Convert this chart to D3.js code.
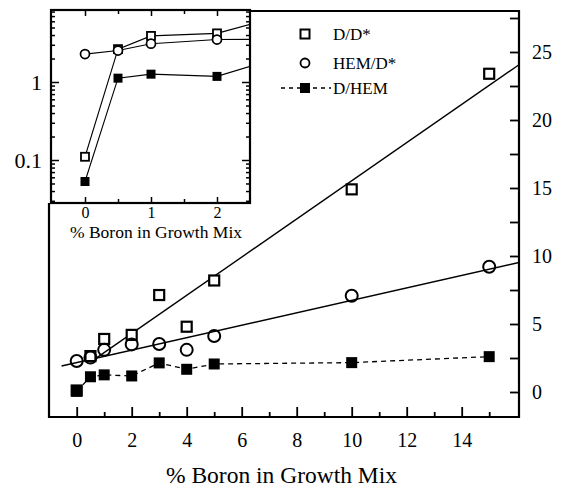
<!DOCTYPE html>
<html>
<head>
<meta charset="utf-8">
<script src="https://cdn.jsdelivr.net/npm/d3@7/dist/d3.min.js"></script>
<style>
  html, body { margin: 0; padding: 0; background: #fff; }
  svg { display: block; }
  text { font-family: "Liberation Serif", "Times New Roman", "DejaVu Serif", serif; fill: #000; }
</style>
</head>
<body>
<svg id="chart" width="561" height="489"></svg>
<script>
// ---------- data ----------
const boron   = [0, 0.5, 1, 2, 3, 4, 5, 10, 15];          // % Boron in growth mix
const dd      = [0.11, 2.64, 3.9, 4.2, 7.13, 4.8, 8.2, 14.9, 23.4];   // D/D*
const hemD    = [2.28, 2.53, 3.1, 3.5, 3.53, 3.1, 4.12, 7.08, 9.21];  // HEM/D*
const dHem    = [0.053, 1.12, 1.26, 1.18, 2.14, 1.67, 2.06, 2.16, 2.6]; // D/HEM
// linear fits [slope, intercept, xStart]
const ddFit   = [1.403, 1.5, 0.5];
const hemFit  = [0.458, 2.16, -0.55];
const mainXTicks = [0, 2, 4, 6, 8, 10, 12, 14];
const mainXMinor = [1, 3, 5, 7, 9, 11, 13, 15];
const mainYTicks = [0, 5, 10, 15, 20, 25];
const mainYMinor = [2.5, 7.5, 12.5, 17.5, 22.5, 27.5];
const insetXTicks = [0, 1, 2];
const insetXMinor = [0.5, 1.5];
const insetYTicks = [0.1, 1];
const legendLabels = ["D/D*", "HEM/D*", "D/HEM"];
const axisTitle = "% Boron in Growth Mix";

// ---------- layout ----------
const FONT = "Liberation Serif, Times New Roman, DejaVu Serif, serif";
const svg = d3.select("#chart").attr("font-family", FONT);
const M = {left: 49, right: 519, top: 11, bottom: 417};
const I = {left: 51, right: 250, top: 10, bottom: 203};

const x = d3.scaleLinear().domain([(M.left - 76.7) / 27.5, (M.right - 76.7) / 27.5]).range([M.left, M.right]);
const y = d3.scaleLinear().domain([(392 - M.bottom) / 13.6, (392 - M.top) / 13.6]).range([M.bottom, M.top]);

const ix = d3.scaleLinear().domain([(I.left - 85) / 66, (I.right - 85) / 66]).range([I.left, I.right]);
const iy = d3.scaleLog().domain([Math.pow(10, -(I.bottom - 82) / 78), Math.pow(10, (82 - I.top) / 78)]).range([I.bottom, I.top]);

const strip = g => { g.select(".domain").remove(); g.attr("font-family", FONT); };

// ---------- main axes ----------
svg.append("g").attr("transform", `translate(0,${M.bottom})`)
  .call(d3.axisTop(x).tickValues(mainXTicks).tickSize(10).tickFormat(""))
  .call(strip).selectAll("line").attr("stroke-width", 1.8);
svg.append("g").attr("transform", `translate(0,${M.bottom})`)
  .call(d3.axisTop(x).tickValues(mainXMinor).tickSize(5).tickFormat(""))
  .call(strip).selectAll("line").attr("stroke-width", 1.8);
svg.append("g").attr("transform", `translate(0,${M.bottom})`)
  .call(d3.axisBottom(x).tickValues(mainXTicks).tickSize(0).tickPadding(16).tickFormat(d3.format("d")))
  .call(strip).selectAll("text").style("font-size", "20px");

svg.append("g").attr("transform", `translate(${M.right},0)`)
  .call(d3.axisLeft(y).tickValues(mainYTicks.concat(mainYMinor)).tickSize(9).tickFormat(""))
  .call(strip).selectAll("line").attr("stroke-width", 1.8);
svg.append("g").attr("transform", `translate(${M.right},0)`)
  .call(d3.axisRight(y).tickValues(mainYTicks).tickSize(0).tickPadding(13).tickFormat(d3.format("d")))
  .call(strip).selectAll("text").style("font-size", "20px");

svg.append("path")
  .attr("d", `M${M.left},${I.bottom}V${M.bottom}H${M.right}V${M.top}H${I.right}`)
  .attr("fill", "none").attr("stroke", "#000").attr("stroke-width", 2.2);

svg.append("text").attr("x", 281.5).attr("y", 483).attr("text-anchor", "middle")
  .style("font-size", "23.5px").text(axisTitle);

// ---------- main marks ----------
svg.append("clipPath").attr("id", "mclip").append("rect")
  .attr("x", M.left).attr("y", M.top).attr("width", M.right - M.left).attr("height", M.bottom - M.top);
const gm = svg.append("g").attr("clip-path", "url(#mclip)");

const fitLine = f => {
  const xs = [f[2], x.domain()[1]];
  return d3.line().x(d => x(d)).y(d => y(f[0] * d + f[1]))(xs);
};
gm.append("path").attr("d", fitLine(ddFit)).attr("fill", "none").attr("stroke", "#000").attr("stroke-width", 1.4);
gm.append("path").attr("d", fitLine(hemFit)).attr("fill", "none").attr("stroke", "#000").attr("stroke-width", 1.4);

const idx = d3.range(boron.length);
gm.append("path")
  .attr("d", d3.line().x(i => x(boron[i])).y(i => y(dHem[i]))(idx))
  .attr("fill", "none").attr("stroke", "#000").attr("stroke-width", 1.3).attr("stroke-dasharray", "5,4");

const sqM = 10, sqF = 11, rM = 6;
gm.selectAll(".dd").data(idx).join("rect")
  .attr("x", i => x(boron[i]) - sqM / 2).attr("y", i => y(dd[i]) - sqM / 2)
  .attr("width", sqM).attr("height", sqM).attr("fill", "#fff").attr("stroke", "#000").attr("stroke-width", 2.2);
gm.selectAll(".hem").data(idx).join("circle")
  .attr("cx", i => x(boron[i])).attr("cy", i => y(hemD[i])).attr("r", rM)
  .attr("fill", "#fff").attr("fill-opacity", 0).attr("stroke", "#000").attr("stroke-width", 2);
gm.selectAll(".dh").data(idx).join("rect")
  .attr("x", i => x(boron[i]) - sqF / 2).attr("y", i => y(dHem[i]) - sqF / 2)
  .attr("width", sqF).attr("height", sqF).attr("fill", "#000");

// ---------- legend ----------
const lg = svg.append("g");
const lx = 305, ly = [34, 63, 88];
lg.append("rect").attr("x", lx - 4.5).attr("y", ly[0] - 4.5).attr("width", 9).attr("height", 9)
  .attr("fill", "#fff").attr("stroke", "#000").attr("stroke-width", 2);
lg.append("circle").attr("cx", lx).attr("cy", ly[1]).attr("r", 4.5)
  .attr("fill", "#fff").attr("stroke", "#000").attr("stroke-width", 1.8);
lg.append("line").attr("x1", 281).attr("x2", 331).attr("y1", ly[2]).attr("y2", ly[2])
  .attr("stroke", "#000").attr("stroke-width", 1.3).attr("stroke-dasharray", "4,4");
lg.append("rect").attr("x", lx - 5).attr("y", ly[2] - 5).attr("width", 10).attr("height", 10).attr("fill", "#000");
legendLabels.forEach((t, k) => {
  lg.append("text").attr("x", 333).attr("y", ly[k] + 6).style("font-size", "17px").text(t);
});

// ---------- inset ----------
svg.append("rect").attr("x", I.left).attr("y", I.top).attr("width", I.right - I.left).attr("height", I.bottom - I.top)
  .attr("fill", "#fff");

const [lo, hi] = iy.domain();
const logMinor = [];
for (let e = -3; e <= 1; e++) for (let m = 2; m <= 9; m++) {
  const v = m * Math.pow(10, e);
  if (v > lo && v < hi) logMinor.push(v);
}
const insetTicks = (axisFn, scale, vals, size, tr) => {
  svg.append("g").attr("transform", tr)
    .call(axisFn(scale).tickValues(vals).tickSize(size).tickFormat(""))
    .call(strip).selectAll("line").attr("stroke-width", 1.5);
};
insetTicks(d3.axisRight, iy, insetYTicks, 8, `translate(${I.left},0)`);
insetTicks(d3.axisRight, iy, logMinor, 4, `translate(${I.left},0)`);
insetTicks(d3.axisLeft, iy, insetYTicks, 8, `translate(${I.right},0)`);
insetTicks(d3.axisLeft, iy, logMinor, 4, `translate(${I.right},0)`);
insetTicks(d3.axisTop, ix, insetXTicks, 6, `translate(0,${I.bottom})`);
insetTicks(d3.axisTop, ix, insetXMinor, 4, `translate(0,${I.bottom})`);
insetTicks(d3.axisBottom, ix, insetXTicks, 6, `translate(0,${I.top})`);
insetTicks(d3.axisBottom, ix, insetXMinor, 4, `translate(0,${I.top})`);

svg.append("g").attr("transform", `translate(${I.left},0)`)
  .call(d3.axisLeft(iy).tickValues(insetYTicks).tickSize(0).tickPadding(9).tickFormat(d => d >= 1 ? "1" : "0.1"))
  .call(strip).selectAll("text").style("font-size", "22px");
svg.append("g").attr("transform", `translate(0,${I.bottom})`)
  .call(d3.axisBottom(ix).tickValues(insetXTicks).tickSize(0).tickPadding(4).tickFormat(d3.format("d")))
  .call(strip).selectAll("text").style("font-size", "16px");
svg.append("text").attr("x", 156).attr("y", 238).attr("text-anchor", "middle")
  .style("font-size", "17.5px").text(axisTitle);

svg.append("clipPath").attr("id", "iclip").append("rect")
  .attr("x", I.left).attr("y", I.top).attr("width", I.right - I.left).attr("height", I.bottom - I.top);
const gi = svg.append("g").attr("clip-path", "url(#iclip)");
const iIdx = idx.filter(i => boron[i] <= 3);
[dd, hemD, dHem].forEach(s => {
  gi.append("path")
    .attr("d", d3.line().x(i => ix(boron[i])).y(i => iy(s[i]))(iIdx))
    .attr("fill", "none").attr("stroke", "#000").attr("stroke-width", 1.1);
});
const iShow = idx.filter(i => boron[i] <= 2.5);
gi.selectAll(".idd").data(iShow).join("rect")
  .attr("x", i => ix(boron[i]) - 4).attr("y", i => iy(dd[i]) - 4)
  .attr("width", 8).attr("height", 8).attr("fill", "#fff").attr("stroke", "#000").attr("stroke-width", 1.8);
gi.selectAll(".ihem").data(iShow).join("circle")
  .attr("cx", i => ix(boron[i])).attr("cy", i => iy(hemD[i])).attr("r", 4.5)
  .attr("fill", "#fff").attr("stroke", "#000").attr("stroke-width", 1.7);
gi.selectAll(".idh").data(iShow).join("rect")
  .attr("x", i => ix(boron[i]) - 4.5).attr("y", i => iy(dHem[i]) - 4.5)
  .attr("width", 9).attr("height", 9).attr("fill", "#000");

svg.append("rect").attr("x", I.left).attr("y", I.top).attr("width", I.right - I.left).attr("height", I.bottom - I.top)
  .attr("fill", "none").attr("stroke", "#000").attr("stroke-width", 2.2);
</script>
</body>
</html>
